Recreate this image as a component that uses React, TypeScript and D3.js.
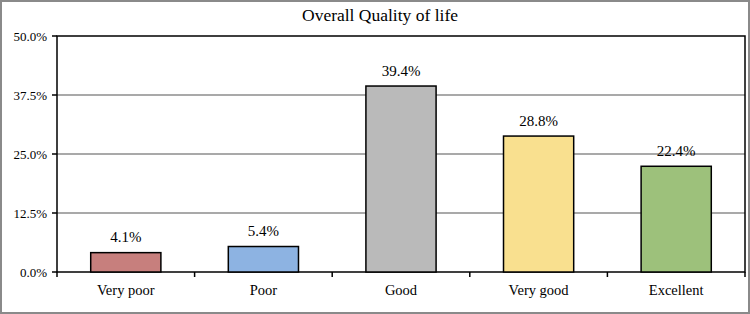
import React from "react";
import * as d3 from "d3";

const categories = ["Very poor", "Poor", "Good", "Very good", "Excellent"];
const values = [4.1, 5.4, 39.4, 28.8, 22.4];
const colors = ["#C77F7D", "#8DB3E2", "#BABABA", "#F9E08F", "#9DC17B"];
const yTicks = [0, 12.5, 25, 37.5, 50];
const title = "Overall Quality of life";

const W = 750, H = 314;
const M = { left: 57, right: 5, top: 36, bottom: 42 };
const FONT = "Liberation Serif, Times New Roman, DejaVu Serif, serif";

export default function App() {
  const x = d3.scaleBand<string>().domain(categories).range([M.left, W - M.right]).paddingInner(0.49).paddingOuter(0.245);
  const y = d3.scaleLinear().domain([0, 50]).range([H - M.bottom, M.top]);
  const step = (W - M.right - M.left) / categories.length;
  const ts = { fontFamily: FONT };
  return (
    <div style={{ position: "absolute", left: 0, top: 0 }}>
      <svg width={W} height={H} style={{ display: "block", fontFamily: FONT }}>
        <rect x={0} y={0} width={W} height={H} fill="#fff" />
        <rect x={1} y={1} width={W - 2} height={H - 2} fill="none" stroke="#8a8a8a" strokeWidth={2} />
        <text x={380} y={21} textAnchor="middle" fontSize={17.5} fill="#000" style={ts}>{title}</text>
        {yTicks.map((t) => (
          <g key={t}>
            {t > 0 && t < 50 && (
              <line x1={M.left} x2={W - M.right} y1={y(t)} y2={y(t)} stroke="#8c8c8c" strokeWidth={1.5} />
            )}
            <line x1={M.left - 5} x2={M.left} y1={y(t)} y2={y(t)} stroke="#000" strokeWidth={1.5} />
            <text x={M.left - 10} y={y(t) + 5} textAnchor="end" fontSize={13} fill="#000" style={ts}>{t.toFixed(1)}%</text>
          </g>
        ))}
        <rect x={M.left} y={M.top} width={W - M.right - M.left} height={H - M.bottom - M.top} fill="none" stroke="#000" strokeWidth={1.5} />
        {categories.map((c, i) => (
          <line key={"tk" + i} x1={M.left + step * i} x2={M.left + step * i} y1={y(0)} y2={y(0) + 5} stroke="#000" strokeWidth={1.5} />
        ))}
        <line x1={W - M.right} x2={W - M.right} y1={y(0)} y2={y(0) + 5} stroke="#000" strokeWidth={1.5} />
        {categories.map((c, i) => (
          <g key={c}>
            <rect x={x(c)!} y={y(values[i])} width={x.bandwidth()} height={y(0) - y(values[i])} fill={colors[i]} stroke="#000" strokeWidth={1.5} />
            <text x={x(c)! + x.bandwidth() / 2} y={y(values[i]) - 10.5} textAnchor="middle" fontSize={15} fill="#000" style={ts}>{values[i].toFixed(1)}%</text>
            <text x={x(c)! + x.bandwidth() / 2} y={y(0) + 23} textAnchor="middle" fontSize={14.5} fill="#000" style={ts}>{c}</text>
          </g>
        ))}
      </svg>
    </div>
  );
}
